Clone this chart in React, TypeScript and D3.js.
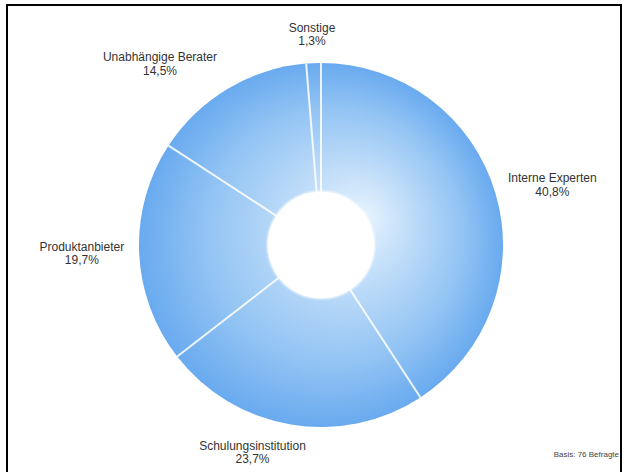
import React from "react";
import * as d3 from "d3";

const categories = ["Interne Experten", "Schulungsinstitution", "Produktanbieter", "Unabhängige Berater", "Sonstige"];
const values = [40.8, 23.7, 19.7, 14.5, 1.3];
const valueLabels = ["40,8%", "23,7%", "19,7%", "14,5%", "1,3%"];
const footnote = "Basis: 76 Befragte";

const W = 624;
const H = 472;
const cx = 321;
const cy = 245;
const R = 182;
const r0 = 54;

// small manual label nudges (label text only)
const labelNudge: Record<string, [number, number]> = {
  "Unabhängige Berater": [-31, 0],
  "Schulungsinstitution": [-27, 0],
};

function textWidth(s: string, size: number) {
  if (typeof document === "undefined") return s.length * size * 0.55;
  const c = document.createElement("canvas").getContext("2d");
  if (!c) return s.length * size * 0.55;
  c.font = `${size}px "Liberation Sans", Arial, sans-serif`;
  return c.measureText(s).width;
}

export default function App() {
  const pie = d3.pie<number>().sort(null).value((d) => d).startAngle(0).endAngle(2 * Math.PI);
  const arcs = pie(values);
  const arc = d3.arc<d3.PieArcDatum<number>>().innerRadius(0).outerRadius(R);
  const fontSize = 12;
  const lineH = 13.5;
  const pad = 15;

  return (
    <div style={{ position: "fixed", left: 0, top: 0, width: W, height: H, background: "#fff" }}>
      <svg width={W} height={H} style={{ display: "block" }}>
        <defs>
          <radialGradient id="pg" gradientUnits="userSpaceOnUse" cx={0} cy={0} r={R} fx={45} fy={-30}>
            <stop offset="0" stopColor="#e6f3fe" />
            <stop offset="0.3" stopColor="#c2def9" />
            <stop offset="0.7" stopColor="#93c4f4" />
            <stop offset="1" stopColor="#69aaef" />
          </radialGradient>
          <filter id="soft" x="-20%" y="-20%" width="140%" height="140%">
            <feGaussianBlur stdDeviation="1" />
          </filter>
        </defs>
        <rect x={7} y={5} width={614} height={H + 20} fill="#fff" stroke="#000" strokeWidth={2} />
        <g transform={`translate(${cx},${cy})`}>
          {arcs.map((a, i) => (
            <path key={i} d={arc(a) || ""} fill="url(#pg)" />
          ))}
          {arcs.map((a, i) => (
            <line
              key={"l" + i}
              x1={0}
              y1={0}
              x2={R * Math.sin(a.startAngle)}
              y2={-R * Math.cos(a.startAngle)}
              stroke="#fff"
              strokeWidth={2}
              opacity={0.85}
            />
          ))}
          <circle r={r0} fill="#fff" filter="url(#soft)" />
          <circle r={r0 - 1} fill="#fff" />
        </g>
        {arcs.map((a, i) => {
          const mid = (a.startAngle + a.endAngle) / 2;
          const s = Math.sin(mid);
          const c = Math.cos(mid);
          const name = categories[i];
          const w = Math.max(textWidth(name, fontSize), textWidth(valueLabels[i], fontSize));
          const h = lineH * 2;
          const px = cx + (R + pad) * s;
          const py = cy - (R + pad) * c;
          const nudge = labelNudge[name] || [0, 0];
          const bx = px + (w / 2) * s + nudge[0];
          const by = py - (h / 2) * c + nudge[1];
          return (
            <text
              key={i}
              x={bx}
              y={by}
              textAnchor="middle"
              fontFamily='"Liberation Sans", Arial, sans-serif'
              fontSize={fontSize}
              fill="#333"
            >
              <tspan x={bx} dy={-lineH / 2 + 4}>{name}</tspan>
              <tspan x={bx} dy={lineH}>{valueLabels[i]}</tspan>
            </text>
          );
        })}
        <text
          x={619}
          y={457}
          textAnchor="end"
          fontFamily='"Liberation Sans", Arial, sans-serif'
          fontSize={8}
          fill="#444"
        >
          {footnote}
        </text>
      </svg>
    </div>
  );
}
